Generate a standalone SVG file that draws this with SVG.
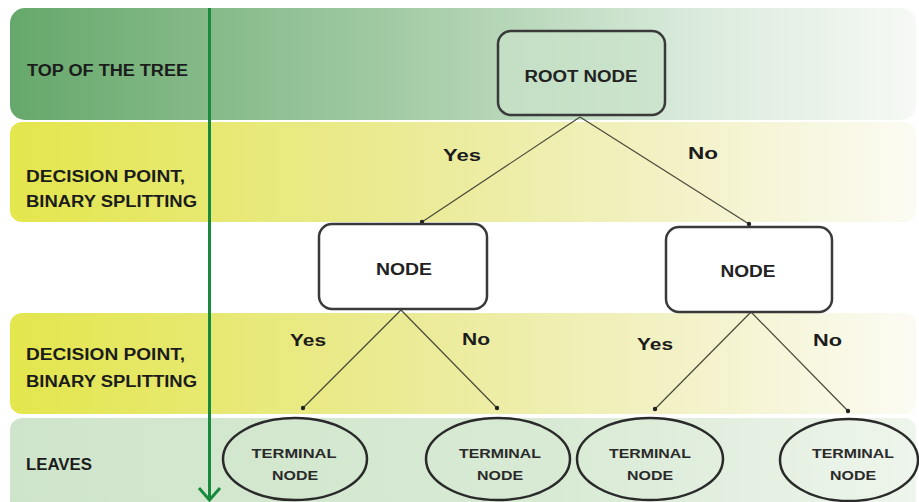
<svg xmlns="http://www.w3.org/2000/svg" width="919" height="502" viewBox="0 0 919 502">
  <defs>
    <linearGradient id="gTop" x1="0" y1="0" x2="1" y2="0">
      <stop offset="0" stop-color="#66a86b"/>
      <stop offset="0.45" stop-color="#a6cda8"/>
      <stop offset="0.75" stop-color="#d9eadb"/>
      <stop offset="1" stop-color="#f6f9f5"/>
    </linearGradient>
    <linearGradient id="gYel" x1="0" y1="0" x2="1" y2="0">
      <stop offset="0" stop-color="#e3e64c"/>
      <stop offset="0.45" stop-color="#ebeb98"/>
      <stop offset="0.75" stop-color="#f3f2c9"/>
      <stop offset="1" stop-color="#fbfbf3"/>
    </linearGradient>
    <linearGradient id="gLeaf" x1="0" y1="0" x2="1" y2="0">
      <stop offset="0" stop-color="#cfe5cb"/>
      <stop offset="0.6" stop-color="#d8ead4"/>
      <stop offset="1" stop-color="#eef5ec"/>
    </linearGradient>
    <marker id="dot" viewBox="0 0 6 6" refX="3" refY="3" markerWidth="6" markerHeight="6" markerUnits="userSpaceOnUse">
      <circle cx="3" cy="3" r="2.2" fill="#222"/>
    </marker>
    <style>
      .lbl { font-family: "Liberation Sans", Arial, sans-serif; font-weight: bold; fill: #1c1c1c; font-size: 16px; }
      .yn { font-family: "Liberation Sans", Arial, sans-serif; font-weight: bold; fill: #1c1c1c; font-size: 17px; }
      .nt { font-family: "Liberation Sans", Arial, sans-serif; font-weight: bold; fill: #222; font-size: 16px; text-anchor: middle; }
      .tt { font-family: "Liberation Sans", Arial, sans-serif; font-weight: bold; fill: #2a2a2a; font-size: 12px; text-anchor: middle; }
      .box { stroke: #3a3a3a; stroke-width: 2.5; }
      .leaf { fill: none; stroke: #2a2a2a; stroke-width: 2.5; }
      .edge { stroke: #4a4a3a; stroke-width: 1.2; fill: none; marker-end: url(#dot); }
    </style>
  </defs>

  <rect width="919" height="502" fill="#ffffff"/>

  <g id="bands">
    <rect x="10" y="8" width="906" height="112" rx="15" fill="url(#gTop)"/>
    <rect x="10" y="122" width="906" height="100" rx="12" fill="url(#gYel)"/>
    <rect x="10" y="313" width="906" height="101" rx="12" fill="url(#gYel)"/>
    <rect x="10" y="418" width="906" height="96" rx="12" fill="url(#gLeaf)"/>
  </g>

  <g id="band-labels">
    <text class="lbl" x="27" y="76" textLength="161" lengthAdjust="spacingAndGlyphs">TOP OF THE TREE</text>
    <text class="lbl" x="26" y="182" textLength="159" lengthAdjust="spacingAndGlyphs">DECISION POINT,</text>
    <text class="lbl" x="26" y="207" textLength="171" lengthAdjust="spacingAndGlyphs">BINARY SPLITTING</text>
    <text class="lbl" x="26" y="360" textLength="159" lengthAdjust="spacingAndGlyphs">DECISION POINT,</text>
    <text class="lbl" x="26" y="387" textLength="171" lengthAdjust="spacingAndGlyphs">BINARY SPLITTING</text>
    <text class="lbl" x="26" y="470" textLength="66" lengthAdjust="spacingAndGlyphs">LEAVES</text>
  </g>

  <g id="axis-arrow">
    <line x1="209.5" y1="8" x2="209.5" y2="500" stroke="#178a3c" stroke-width="3"/>
    <polyline points="199,488 209.5,500 220,488" fill="none" stroke="#178a3c" stroke-width="3" stroke-linejoin="miter"/>
  </g>

  <g id="connectors">
    <line class="edge" x1="580" y1="117" x2="422" y2="222"/>
    <line class="edge" x1="580" y1="117" x2="749" y2="224"/>
    <line class="edge" x1="401" y1="310" x2="303" y2="408"/>
    <line class="edge" x1="401" y1="310" x2="497" y2="408"/>
    <line class="edge" x1="751" y1="312" x2="655" y2="409"/>
    <line class="edge" x1="751" y1="312" x2="848" y2="411"/>
    <text class="yn" x="443" y="161" textLength="38" lengthAdjust="spacingAndGlyphs">Yes</text>
    <text class="yn" x="688" y="159" textLength="30" lengthAdjust="spacingAndGlyphs">No</text>
    <text class="yn" x="290" y="346" textLength="36" lengthAdjust="spacingAndGlyphs">Yes</text>
    <text class="yn" x="462" y="345" textLength="28" lengthAdjust="spacingAndGlyphs">No</text>
    <text class="yn" x="637" y="350" textLength="36" lengthAdjust="spacingAndGlyphs">Yes</text>
    <text class="yn" x="813" y="346" textLength="29" lengthAdjust="spacingAndGlyphs">No</text>
  </g>

  <g id="root">
    <rect class="box" x="498" y="31" width="167" height="84" rx="13" fill="#c9e2c9" fill-opacity="0.7"/>
    <text class="nt" x="581" y="82" textLength="113" lengthAdjust="spacingAndGlyphs">ROOT NODE</text>
  </g>

  <g id="node-left">
    <rect class="box" x="319" y="224" width="168" height="85" rx="13" fill="#ffffff"/>
    <text class="nt" x="404" y="275" textLength="56" lengthAdjust="spacingAndGlyphs">NODE</text>
  </g>

  <g id="node-right">
    <rect class="box" x="666" y="227" width="166" height="85" rx="13" fill="#ffffff"/>
    <text class="nt" x="748" y="277" textLength="55" lengthAdjust="spacingAndGlyphs">NODE</text>
  </g>

  <g id="leaf-1">
    <ellipse class="leaf" cx="295" cy="459" rx="72" ry="41"/>
    <text class="tt" x="294" y="458" textLength="85" lengthAdjust="spacingAndGlyphs">TERMINAL</text>
    <text class="tt" x="295" y="480" textLength="46" lengthAdjust="spacingAndGlyphs">NODE</text>
  </g>
  <g id="leaf-2">
    <ellipse class="leaf" cx="498" cy="459" rx="72" ry="41"/>
    <text class="tt" x="500" y="458" textLength="82" lengthAdjust="spacingAndGlyphs">TERMINAL</text>
    <text class="tt" x="500" y="480" textLength="46" lengthAdjust="spacingAndGlyphs">NODE</text>
  </g>
  <g id="leaf-3">
    <ellipse class="leaf" cx="650" cy="459" rx="73" ry="41"/>
    <text class="tt" x="650" y="458" textLength="82" lengthAdjust="spacingAndGlyphs">TERMINAL</text>
    <text class="tt" x="650" y="480" textLength="46" lengthAdjust="spacingAndGlyphs">NODE</text>
  </g>
  <g id="leaf-4">
    <ellipse class="leaf" cx="849" cy="460" rx="69" ry="41"/>
    <text class="tt" x="853" y="458" textLength="82" lengthAdjust="spacingAndGlyphs">TERMINAL</text>
    <text class="tt" x="853" y="480" textLength="46" lengthAdjust="spacingAndGlyphs">NODE</text>
  </g>
</svg>
